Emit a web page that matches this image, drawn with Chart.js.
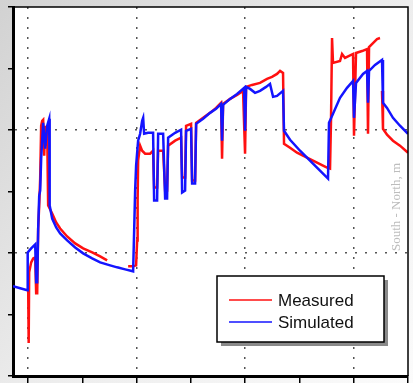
<!DOCTYPE html>
<html>
<head>
<meta charset="utf-8">
<script src="https://cdn.jsdelivr.net/npm/chart.js@4"></script>
<style>
  html, body { margin: 0; padding: 0; background: #fff; }
  #chart { display: block; }
</style>
</head>
<body>
<canvas id="chart" width="413" height="383"></canvas>
<script>
// series (x in tick units of 10, y in tick units of 10)
const seriesLabels = ['Measured', 'Simulated'];

const measuredX = [0, 0.09, 0.18, 0.55, 0.92, 1.29, 1.47, 1.66, 1.84, 2.03, 2.21, 2.39, 2.58, 2.76, 2.95, 3.13, 3.32, 3.5, 3.68,
  4.42, 5.16, 5.89, 7.18, 8.66, 10.13, 11.79, 13.26, 14.55, 16.5,
  18.42, 19.34, 19.89, 20.08, 20.17, 20.26, 20.63, 21.0, 21.55, 22.47, 23.02, 23.21, 23.76, 23.95, 24.87, 25.24, 25.6, 25.79,
  27.08, 28.18, 28.37, 28.92, 29.1, 30.02, 30.21, 30.76, 30.95, 32.24, 33.52, 34.63, 35.55, 35.73, 35.92, 37.21, 38.5, 39.6,
  39.97, 40.16, 41.26, 42.73, 44.02, 44.94, 45.86, 46.42, 46.97, 47.15, 48.26, 49.55, 51.39, 53.23, 55.07, 55.63, 55.81, 56.0,
  56.18, 57.47, 57.84, 58.39, 59.87, 60.05, 60.42, 61.53, 62.45, 62.63, 62.82, 63.55, 64.29, 64.84, 65.0,
  65.21, 65.39, 66.13, 67.23, 68.52, 70.0];
const measuredY = [13.94, 5.35, 16.86, 18.48, 19.13, 19.29, 13.45, 13.45, 23.99, 27.72, 32.1, 40.69, 41.5, 41.66, 35.82, 40.69, 37.45, 39.88, 27.72,
  26.42, 24.96, 23.99, 22.69, 21.56, 20.75, 20.1, 19.45, 18.8, null,
  17.83, 17.83, 17.99, 22.05, 28.53, 35.01, 37.45, 36.63, 36.15, 36.15, 36.63, 30.64, 30.64, 36.63, 36.63, 30.15, 30.15, 37.45,
  38.26, 38.74, 32.26, 32.26, 40.69, 41.01, 31.77, 31.77, 41.17, 41.98, 42.79, 43.6, 44.42, 35.34, 44.25, 45.06, 45.71, 46.36,
  36.15, 47.01, 47.33, 47.66, 48.31, 48.63, 49.12, 49.6, 49.28, 37.77, 37.12, 36.31, 35.5, 34.69, 33.88, 33.72, 41.5, 54.95,
  50.9, 51.22, 52.36, 51.71, 52.36, 39.07, 52.52, 52.84, 53.17, 39.39, 53.49, 54.14, 54.79, 54.95, null,
  46.36, 40.2, 39.23, 38.26, 37.45, 36.31];

const simulatedX = [-2.8, -1.47, -0.18, -0.09, 0.55, 1.11, 1.29, 1.47, 1.66, 1.84, 2.03, 2.21, 2.39, 2.76, 3.13, 3.5, 3.87, 3.96,
  4.42, 5.16, 5.89, 7.18, 8.66, 10.13, 11.79, 13.26, 15.1, 16.39, 17.87, 19.34,
  19.53, 19.71, 19.89, 20.26, 20.63, 21.0, 21.19, 21.37, 22.1, 23.02, 23.21, 23.76, 23.95, 24.87, 25.24, 25.6, 25.79,
  27.08, 28.18, 28.37, 28.92, 29.1, 30.02, 30.21, 30.76, 30.95, 32.24, 33.52, 34.63, 35.55, 35.73, 35.92, 37.21, 38.5, 39.79,
  39.97, 40.16, 40.89, 41.81, 42.73, 43.84, 44.57, 45.13, 45.86, 46.97, 47.15, 48.26, 50.1, 51.94, 53.78, 55.26,
  55.44, 56.18, 57.47, 58.76, 59.87, 60.05, 60.42, 61.71, 62.45, 62.63, 62.82, 63.92, 65.21, 65.39, 66.13, 67.23, 68.52, 70.0];
const simulatedY = [14.59, 14.26, 13.94, 20.1, 20.75, 21.24, 21.4, 15.24, 15.24, 23.99, 29.34, 30.15, 35.34, 41.17, 36.96, 40.69, 41.82, 27.72,
  25.61, 24.15, 23.18, 22.05, 20.91, 19.94, 19.13, 18.48, 17.99, 17.67, 17.34, 17.02,
  23.67, 30.15, 34.2, 38.26, 39.39, 41.5, 41.98, 39.39, 39.55, 39.55, 28.53, 28.53, 39.39, 39.39, 28.85, 28.85, 38.74,
  39.55, 40.04, 29.83, 30.15, 39.88, 40.2, 31.29, 31.29, 41.01, 41.82, 42.79, 43.44, 44.25, 38.26, 44.09, 45.06, 45.87, 46.85,
  39.88, 47.01, 46.68, 46.04, 46.36, 47.01, 47.5, 45.39, 45.55, 46.36, 39.88, 38.42, 36.63, 35.01, 33.39, 32.1,
  41.17, 42.63, 45.23, 46.85, 47.98, 41.98, 47.66, 49.12, 49.6, 44.42, 49.6, 50.58, 51.39, 44.42, 43.6, 41.98, 40.69, 39.39];

const xTicks = [0, 10, 20, 30, 40, 50, 60, 70];
const yTicks = [0, 10, 20, 30, 40, 50, 60];
const xGrid = [0, 20, 40, 60];
const yGrid = [20, 40];
const sideText = 'South - North, m';

const seriesColors = ['#ff1010', '#1414ff'];

function toPoints(xs, ys) {
  return xs.map((x, i) => ({ x: x, y: ys[i] }));
}

// page background + white plot area, faint side caption
const backdrop = {
  id: 'backdrop',
  beforeDraw(chart) {
    const { ctx, width, height, chartArea: a } = chart;
    ctx.save();
    const g = ctx.createLinearGradient(0, 0, width, height);
    g.addColorStop(0, '#d2d2d2');
    g.addColorStop(0.5, '#ececec');
    g.addColorStop(1, '#fbfbfb');
    ctx.fillStyle = g;
    ctx.fillRect(0, 0, width, height);
    ctx.fillStyle = '#fff';
    ctx.fillRect(a.left, a.top, a.right - a.left, a.bottom - a.top);
    ctx.restore();
  },
  beforeDatasetsDraw(chart) {
    const { ctx } = chart;
    ctx.save();
    ctx.translate(397, 207);
    ctx.rotate(-Math.PI / 2);
    ctx.fillStyle = '#bdbdbd';
    ctx.font = '13px "Liberation Serif", "DejaVu Serif", serif';
    ctx.textAlign = 'center';
    ctx.textBaseline = 'middle';
    ctx.fillText(sideText, 0, 0);
    ctx.restore();
  }
};

// top/right frame and the boxed legend with a drop shadow
const frameAndLegend = {
  id: 'frameAndLegend',
  afterDraw(chart) {
    const { ctx, chartArea: a } = chart;
    ctx.save();
    ctx.strokeStyle = '#000';
    ctx.lineWidth = 1.5;
    ctx.beginPath();
    ctx.moveTo(a.left, a.top);
    ctx.lineTo(a.right, a.top);
    ctx.lineTo(a.right, a.bottom);
    ctx.stroke();

    const bx = 217, by = 276, bw = 167, bh = 66;
    ctx.fillStyle = '#8a8a8a';
    ctx.fillRect(bx + 4, by + 4, bw, bh);
    ctx.fillStyle = '#fff';
    ctx.fillRect(bx, by, bw, bh);
    ctx.lineWidth = 1.5;
    ctx.strokeRect(bx, by, bw, bh);

    ctx.font = '17px "Liberation Sans", Arial, sans-serif';
    ctx.textBaseline = 'middle';
    chart.data.datasets.forEach((ds, i) => {
      const y = by + 24 + i * 22;
      ctx.strokeStyle = ds.borderColor;
      ctx.lineWidth = 1.5;
      ctx.beginPath();
      ctx.moveTo(bx + 12, y);
      ctx.lineTo(bx + 55, y);
      ctx.stroke();
      ctx.fillStyle = '#111';
      ctx.fillText(ds.label, bx + 61, y + 1);
    });
    ctx.restore();
  }
};

const gridDash = [2, 8];

new Chart(document.getElementById('chart').getContext('2d'), {
  type: 'line',
  data: {
    datasets: [
      {
        label: seriesLabels[0],
        data: toPoints(measuredX, measuredY),
        borderColor: seriesColors[0],
        borderWidth: 2.5,
        pointRadius: 0,
        tension: 0,
        spanGaps: false,
        order: 1
      },
      {
        label: seriesLabels[1],
        data: toPoints(simulatedX, simulatedY),
        borderColor: seriesColors[1],
        borderWidth: 2.5,
        pointRadius: 0,
        tension: 0,
        order: 0
      }
    ]
  },
  options: {
    responsive: false,
    animation: false,
    events: [],
    layout: { padding: { left: 8, right: 5, top: 7, bottom: 0 } },
    plugins: {
      legend: { display: false },
      tooltip: { enabled: false }
    },
    scales: {
      x: {
        type: 'linear',
        min: -2.8,
        max: 70,
        afterBuildTicks: axis => { axis.ticks = xTicks.map(v => ({ value: v })); },
        ticks: { display: false },
        grid: {
          color: c => (c.tick && xGrid.includes(c.tick.value)) ? '#555' : 'rgba(0,0,0,0)',
          lineWidth: 1.5,
          tickColor: '#000',
          tickLength: 7,
          tickWidth: 1.5
        },
        border: { color: '#000', width: 3, dash: gridDash }
      },
      y: {
        min: 0,
        max: 60,
        afterBuildTicks: axis => { axis.ticks = yTicks.map(v => ({ value: v })); },
        ticks: { display: false },
        grid: {
          color: c => (c.tick && yGrid.includes(c.tick.value)) ? '#555' : 'rgba(0,0,0,0)',
          lineWidth: 1.5,
          tickColor: '#000',
          tickLength: 5,
          tickWidth: 1.5
        },
        border: { color: '#000', width: 3, dash: gridDash }
      }
    }
  },
  plugins: [backdrop, frameAndLegend]
});
</script>
</body>
</html>
